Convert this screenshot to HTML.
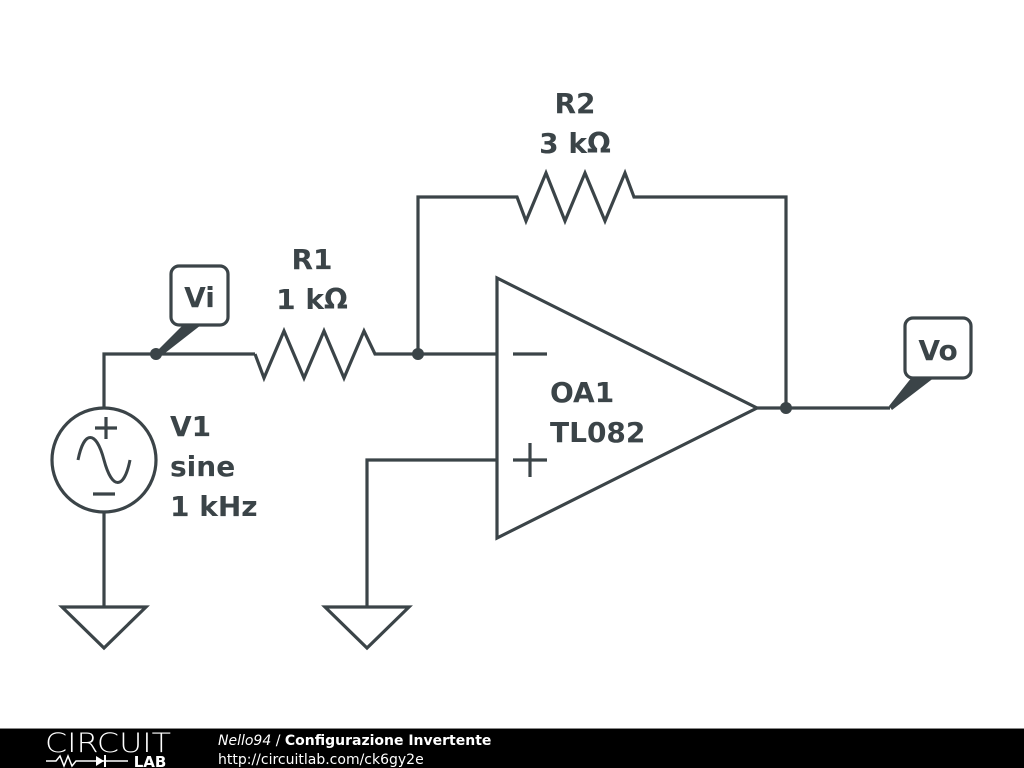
<!DOCTYPE html>
<html><head><meta charset="utf-8"><style>
html,body{margin:0;padding:0;background:#fff;width:1024px;height:768px;overflow:hidden}
</style></head><body>
<svg width="1024" height="768" viewBox="0 0 1024 768" xmlns="http://www.w3.org/2000/svg">
<g fill="none" stroke="#3b4448" stroke-width="3.2" stroke-linejoin="miter">
<polyline points="104,408 104,354 255,354"/>
<polyline points="255,354 264,378 284,331 304,378 324,331 344,378 364,331 375,354 497,354"/>
<polyline points="418,354 418,197 517,197 526,221 546,173 565,221 585,173 605,221 625,173 634,197 786,197 786,408"/>
<polygon points="497,278 497,538 757,408"/>
<line x1="757" y1="408" x2="890" y2="408"/>
<line x1="513" y1="354" x2="547" y2="354"/>
<line x1="513" y1="460" x2="547" y2="460"/><line x1="530" y1="443" x2="530" y2="477"/>
<polyline points="497,460 367,460 367,607"/>
<polygon points="325,607 409,607 367,648"/>
<circle cx="104" cy="460" r="52"/>
<line x1="104" y1="512" x2="104" y2="607"/>
<polygon points="62,607 146,607 104,648"/>
<line x1="95" y1="428" x2="117" y2="428"/><line x1="106" y1="417" x2="106" y2="439"/>
<line x1="93" y1="494" x2="115" y2="494"/>
<path d="M78,460 C84,430 96,430 104,460 C112,490 124,490 130,460" stroke-width="3"/>
<rect x="171" y="266" width="57" height="59" rx="8"/>
<rect x="905" y="318" width="66" height="60" rx="8"/>
</g>
<g fill="#3b4448">
<circle cx="156" cy="354" r="6"/><circle cx="418" cy="354" r="6"/><circle cx="786" cy="408" r="6"/>
<polygon points="156,352 183,325 201,325 160,357"/>
<polygon points="889,406 912,377 935,377 892,410"/>
</g>
<g font-family="'DejaVu Sans','Liberation Sans',sans-serif" font-weight="bold" font-size="28" fill="#3b4448">
<text x="575" y="113" text-anchor="middle">R2</text>
<text x="575" y="153" text-anchor="middle">3 kΩ</text>
<text x="312" y="269" text-anchor="middle">R1</text>
<text x="312" y="309" text-anchor="middle">1 kΩ</text>
<text x="170" y="436">V1</text>
<text x="170" y="476">sine</text>
<text x="170" y="516">1 kHz</text>
<text x="550" y="402">OA1</text>
<text x="550" y="442">TL082</text>
<text x="199.5" y="307" text-anchor="middle">Vi</text>
<text x="938" y="360" text-anchor="middle">Vo</text>
</g>
<rect x="0" y="729" width="1024" height="39" fill="#000"/>
<rect x="0" y="728" width="1024" height="1" fill="#888"/>
<text x="108" y="752" text-anchor="middle" font-family="'DejaVu Sans',sans-serif" font-weight="200" font-size="27" fill="#fff" textLength="126" lengthAdjust="spacingAndGlyphs">CIRCUIT</text>
<text x="150" y="767" text-anchor="middle" font-family="'DejaVu Sans',sans-serif" font-weight="bold" font-size="15" fill="#fff">LAB</text>
<polyline points="46,761 56,761 60,756 64,766 68,756 72,766 76,761 96,761 128,761" fill="none" stroke="#fff" stroke-width="1.5"/>
<polygon points="96,756 96,766 104,761" fill="#fff"/><line x1="105" y1="755" x2="105" y2="767" stroke="#fff" stroke-width="2"/>
<text x="218" y="745" font-family="'DejaVu Sans',sans-serif" font-size="14" fill="#fff"><tspan font-style="italic">Nello94</tspan> / <tspan font-weight="bold">Configurazione Invertente</tspan></text>
<text x="218" y="764" font-family="'DejaVu Sans',sans-serif" font-size="14" fill="#fff">http://circuitlab.com/ck6gy2e</text>
</svg>
</body></html>
